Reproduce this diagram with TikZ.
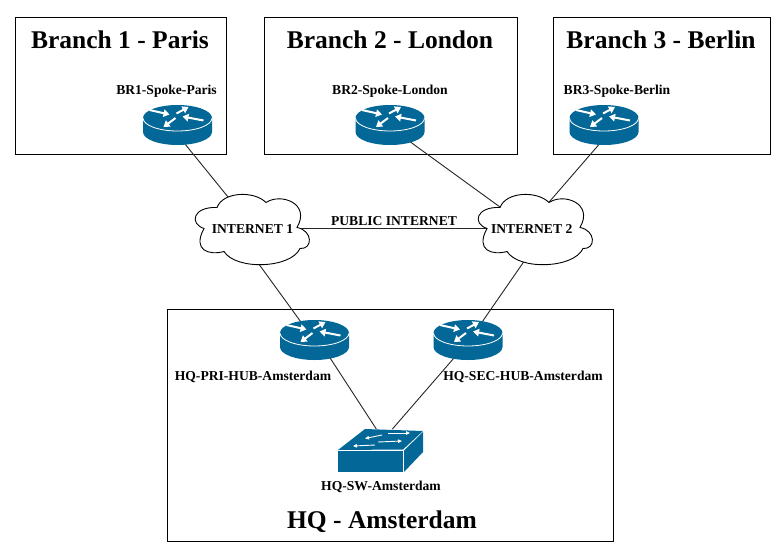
\documentclass[tikz,border=0pt]{standalone}
\usepackage{fontspec}
\setmainfont{Liberation Serif}
\usetikzlibrary{shapes.geometric,arrows.meta}
\definecolor{ciscoblue}{HTML}{036897}
\tikzset{
  x=1pt,y=-1pt,
  every node/.style={inner sep=0pt,outer sep=0pt},
  area/.style={draw=black,line width=0.9pt,fill=white},
  link/.style={draw=black!85,line width=0.9pt},
  routerspot/.style={ellipse,minimum width=69pt,minimum height=40pt},
  cloudspot/.style={ellipse,minimum width=80pt,minimum height=40pt},
  switchspot/.style={rectangle,minimum width=85pt,minimum height=43pt},
  title/.style={font=\bfseries\fontsize{25.5}{30}\selectfont},
  devlabel/.style={font=\bfseries\fontsize{13.6}{16}\selectfont},
  whitearrow/.style={draw=white,line width=2pt,-{Triangle[width=7.5pt,length=6pt]}},
  swarrow/.style={draw=white,line width=0.9pt,-{Triangle[width=3.5pt,length=4pt]}},
  pics/router/.style={code={
    \fill[ciscoblue] (-34.5,-7) -- (-34.5,7)
      .. controls (-34.5,14.2) and (-19,20) .. (0,20)
      .. controls (19,20) and (34.5,14.2) .. (34.5,7)
      -- (34.5,-7)
      .. controls (34.5,-14.2) and (19,-20) .. (0,-20)
      .. controls (-19,-20) and (-34.5,-14.2) .. (-34.5,-7) -- cycle;
    \draw[white,line width=0.8pt] (-34.5,-7)
      .. controls (-34.5,0.2) and (-19,6) .. (0,6)
      .. controls (19,6) and (34.5,0.2) .. (34.5,-7);
    \draw[whitearrow] (-28,-15) -- (-8,-10.5);
    \draw[whitearrow] (26,-4.5) -- (5,-8.5);
    \draw[whitearrow] (-1,-11.5) -- (11,-18);
    \draw[whitearrow] (-2,-7) -- (-14,2);
  }},
  pics/cloudline/.style={code={
    \draw[black,line width=0.9pt,fill=white] (-34,-21)
      .. controls (-28,-37) and (3,-38) .. (15,-26)
      .. controls (30,-36) and (60,-25) .. (46,-1)
      .. controls (62,2) and (62,21) .. (49,20)
      .. controls (40,40) and (-15,42) .. (-27,23)
      .. controls (-42,27) and (-59,22) .. (-47,0)
      .. controls (-62,-5) and (-58,-22) .. (-34,-21) -- cycle;
  }},
}
\begin{document}
\begin{tikzpicture}
\useasboundingbox (0,0) rectangle (782,555);
\fill[white] (0,0) rectangle (782,555);
% areas
\path[area] (15,17) rectangle (226,154);
\path[area] (264,17) rectangle (517,154);
\path[area] (553,17) rectangle (770,154);
\path[area] (167,309) rectangle (613,541);
% device spots
\node[routerspot] (r1) at (177.5,125) {};
\node[routerspot] (r2) at (390,125) {};
\node[routerspot] (r3) at (604,125) {};
\node[routerspot] (hp) at (314.5,340) {};
\node[routerspot] (hs) at (468,340) {};
\node[switchspot] (sw) at (380.5,450.5) {};
\node[cloudspot] (c1) at (251,228.5) {};
\node[cloudspot] (c2) at (534,228.5) {};
% connectors
\draw[link] (r1.-68) -- (c1.124.8);
\draw[link] (r2.-40) -- (c2.149.9);
\draw[link] (r3.-105) -- (c2.65.2);
\draw[link] (c1.-100) -- (hp.127.3);
\draw[link] (c2.-93) -- (hs.52);
\draw[link] (hp.-49.6) -- (sw.101.8);
\draw[link] (hs.-128) -- (sw.61.9);
\draw[link] (c1.east) -- (c2.west);
% clouds
\pic at (c1) {cloudline};
\pic at (c2) {cloudline};
% routers
\pic at (r1) {router};
\pic at (r2) {router};
\pic at (r3) {router};
\pic at (hp) {router};
\pic at (hs) {router};
% switch
\fill[ciscoblue] (338,450) -- (365,429) -- (423,431) -- (403,449.5) -- cycle;
\fill[ciscoblue] (338,451) rectangle (402.5,472);
\fill[ciscoblue] (404,450.5) -- (423,432) -- (423,452) -- (404,472) -- cycle;
\draw[swarrow] (382,435) -- (365,438.5);
\draw[swarrow] (388,433) -- (410,433);
\draw[swarrow] (375,445) -- (353,446);
\draw[swarrow] (378,442) -- (402,441);
% labels
\node[title] (t1) at (120,40) {Branch 1 - Paris};
\node[title] (t2) at (390,40) {Branch 2 - London};
\node[title] (t3) at (661,40) {Branch 3 - Berlin};
\node[title] (t4) at (382,521.5) {HQ - Amsterdam};
\node[devlabel] (l1) at (166.5,91.5) {BR1-Spoke-Paris};
\node[devlabel] (l2) at (390,91.5) {BR2-Spoke-London};
\node[devlabel] (l3) at (617,91.5) {BR3-Spoke-Berlin};
\node[devlabel] (l4) at (253,377) {HQ-PRI-HUB-Amsterdam};
\node[devlabel] (l5) at (523,377) {HQ-SEC-HUB-Amsterdam};
\node[devlabel] (l6) at (381,487) {HQ-SW-Amsterdam};
\node[devlabel] (l7) at (394,221) {PUBLIC INTERNET};
\node[devlabel] (l8) at (252.5,229) {INTERNET 1};
\node[devlabel] (l9) at (531.7,229) {INTERNET 2};
\end{tikzpicture}
\end{document}
